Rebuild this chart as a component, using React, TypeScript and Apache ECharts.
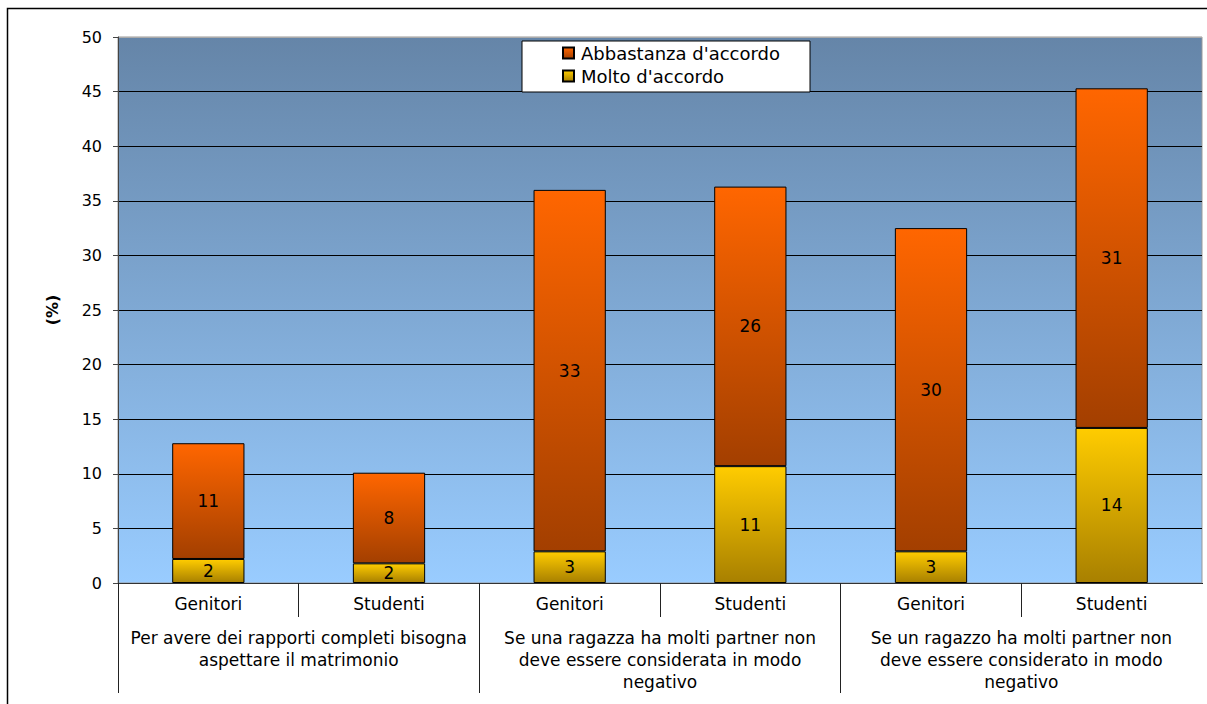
import React, { useEffect, useRef } from "react";
import * as echarts from "echarts";

const groups = [
  "Per avere dei rapporti completi bisogna\naspettare il matrimonio",
  "Se una ragazza ha molti partner non\ndeve essere considerata in modo\nnegativo",
  "Se un ragazzo ha molti partner non\ndeve essere considerato in modo\nnegativo",
];
const respondents = ["Genitori", "Studenti", "Genitori", "Studenti", "Genitori", "Studenti"];
const moltoName = "Molto d'accordo";
const abbastanzaName = "Abbastanza d'accordo";
const moltoValues = [2.2, 1.8, 2.9, 10.7, 2.9, 14.2];
const abbastanzaValues = [10.6, 8.3, 33.1, 25.6, 29.6, 31.1];
const yTicks = { min: 0, max: 50, interval: 5 };
const yName = "(%)";

const FONT = "DejaVu Sans";

export default function App() {
  const ref = useRef<HTMLDivElement>(null);
  useEffect(() => {
    if (!ref.current) return;
    const chart = echarts.init(ref.current, null, { renderer: "svg" });
    const grad = (a: string, b: string) =>
      new echarts.graphic.LinearGradient(0, 0, 0, 1, [
        { offset: 0, color: a },
        { offset: 1, color: b },
      ]);
    const labelCfg = {
      show: true,
      position: "inside",
      color: "#000",
      fontFamily: FONT,
      fontSize: 17,
      formatter: (p: any) => String(Math.round(p.value)),
    };
    chart.setOption({
      animation: false,
      backgroundColor: "#fff",
      textStyle: { fontFamily: FONT },
      grid: {
        left: 118,
        right: 5,
        top: 37,
        bottom: 121,
        show: true,
        backgroundColor: grad("#6585a8", "#99ccff"),
        borderColor: "#999",
        borderWidth: 1,
      },
      legend: {
        orient: "vertical",
        left: 522,
        top: 41,
        data: [abbastanzaName, moltoName],
        backgroundColor: "#fff",
        borderColor: "#000",
        borderWidth: 1,
        borderRadius: 0,
        padding: [3, 30, 7, 40],
        itemWidth: 11,
        itemHeight: 11,
        itemGap: 5,
        icon: "rect",
        textStyle: { fontFamily: FONT, fontSize: 18, color: "#000", lineHeight: 18, padding: [0, 0, 0, 2] },
      },
      xAxis: [
        {
          type: "category",
          data: respondents,
          position: "bottom",
          axisLine: { show: true, lineStyle: { color: "#333", width: 1 } },
          axisTick: { show: true, length: 34, lineStyle: { color: "#222" } },
          axisLabel: { interval: 0, margin: 12, color: "#000", fontFamily: FONT, fontSize: 17, lineHeight: 17 },
        },
        {
          type: "category",
          data: groups,
          position: "bottom",
          axisLine: { show: false },
          axisTick: { show: true, length: 110, lineStyle: { color: "#222" } },
          axisLabel: {
            interval: 0,
            hideOverlap: false,
            margin: 44,
            color: "#000",
            fontFamily: FONT,
            fontSize: 17,
            lineHeight: 22,
          },
        },
      ],
      yAxis: {
        type: "value",
        min: yTicks.min,
        max: yTicks.max,
        interval: yTicks.interval,
        name: yName,
        nameLocation: "middle",
        nameGap: 58,
        nameRotate: 90,
        nameTextStyle: { fontFamily: FONT, fontSize: 16, fontWeight: "bold", color: "#000" },
        axisLine: { show: true, lineStyle: { color: "#444", width: 1 } },
        axisTick: { show: true, length: 5, lineStyle: { color: "#444" } },
        axisLabel: { margin: 16, color: "#000", fontFamily: FONT, fontSize: 16 },
        splitLine: {
          show: true,
          lineStyle: {
            color: ["#000", "#000", "#000", "#000", "#000", "#000", "#000", "#000", "#000", "#000", "#aaa"],
            width: 1,
          },
        },
      },
      series: [
        {
          name: moltoName,
          type: "bar",
          stack: "tot",
          xAxisIndex: 0,
          barWidth: "40%",
          data: moltoValues,
          itemStyle: { color: grad("#ffcc00", "#a88000"), borderColor: "#000", borderWidth: 1 },
          label: labelCfg,
        },
        {
          name: abbastanzaName,
          type: "bar",
          stack: "tot",
          xAxisIndex: 0,
          barWidth: "40%",
          data: abbastanzaValues,
          itemStyle: { color: grad("#ff6600", "#a33f00"), borderColor: "#000", borderWidth: 1 },
          label: labelCfg,
        },
      ],
      graphic: [
        {
          type: "rect",
          shape: { x: 7.5, y: 8.5, width: 1220, height: 720 },
          style: { fill: "none", stroke: "#000", lineWidth: 1.5 },
          z: 100,
          silent: true,
        },
        {
          type: "rect",
          shape: { x: 1200, y: 584, width: 10, height: 120 },
          style: { fill: "#fff" },
          z: 100,
          silent: true,
        },
      ],
    });
    return () => chart.dispose();
  }, []);
  return (
    <div
      ref={ref}
      style={{ position: "absolute", left: 0, top: 0, width: 1207, height: 704 }}
    />
  );
}
